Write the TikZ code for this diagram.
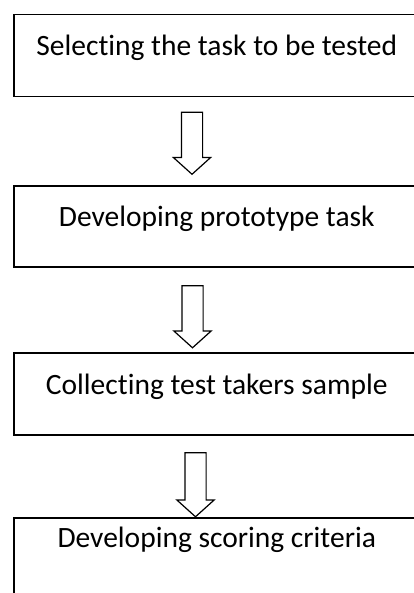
\documentclass[tikz,border=0pt]{standalone}
\usepackage{fontspec}
\setmainfont{Carlito}[Ligatures=NoCommon]
\usetikzlibrary{shapes.arrows}
\begin{document}
\begin{tikzpicture}
  [x=1pt,y=-1pt,
   every node/.style={font=\fontsize{29.5}{35}\selectfont},
   stage/.style={draw,line width=1.6pt,minimum width=406pt,minimum height=82pt,
     text height=20pt,text depth=20pt,inner sep=0pt},
   flow/.style={draw,line width=1.2pt,single arrow,rotate=-90,inner xsep=0pt,
     inner ysep=10pt,single arrow head extend=8pt,single arrow tip angle=96,
     minimum height=62pt}]
\useasboundingbox (0,0) rectangle (414,593);
\clip (0,0) rectangle (414,593);
\node (s1)[stage] at (216.75,55.5) {Selecting the task to be tested};
  \node (s2)[stage,minimum height=81pt] at (216.75,226.5) {Developing prototype task};
  \node (s3)[stage] at (216.75,394) {Collecting test takers sample};
  \node (s4)[stage,text depth=44pt] at (216.75,559) {Developing scoring criteria};
 % block arrows between the stages
 \node (f1)[flow] at (192,138.5) {};
 \node (f2)[flow] at (192.5,312) {};
 \node (f3)[flow,minimum height=64pt] at (195.5,480) {};
\end{tikzpicture}
\end{document}
